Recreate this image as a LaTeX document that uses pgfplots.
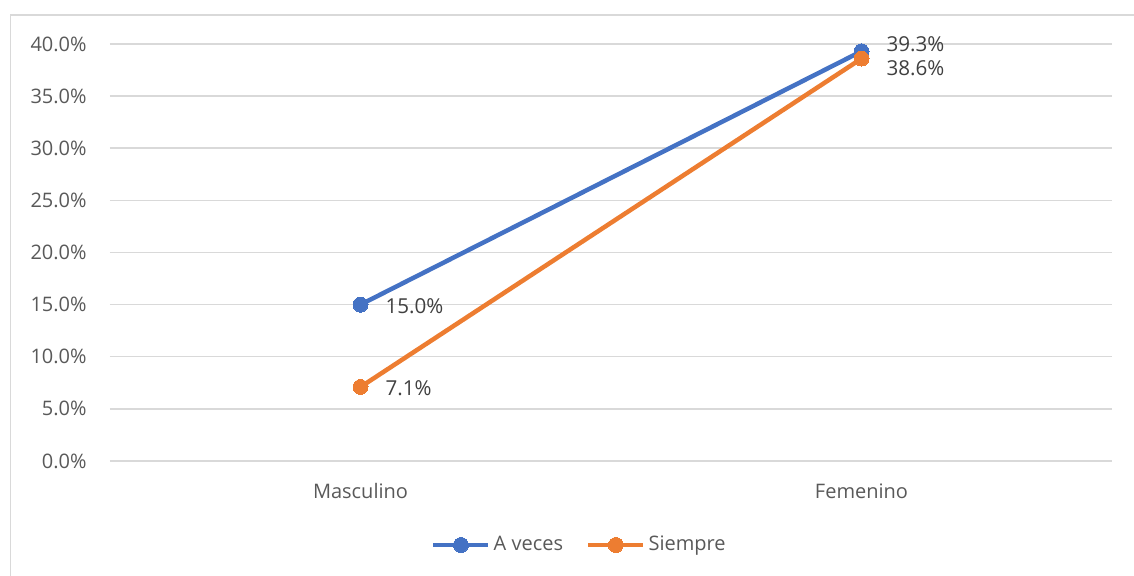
\documentclass[border=0pt]{standalone}
\usepackage{fontspec}
\setmainfont{Open Sans}
\usepackage{pgfplots}
\pgfplotsset{compat=1.18}
\definecolor{aveces}{HTML}{4472C4}
\definecolor{siempre}{HTML}{ED7D31}
\definecolor{gridgray}{HTML}{D9D9D9}
\definecolor{ticktext}{HTML}{595959}
\definecolor{labeltext}{HTML}{404040}

\begin{document}
\begin{tikzpicture}
\useasboundingbox (0,0) rectangle (567pt,288pt);
\draw[gridgray, line width=0.75pt] (5.25pt,-20pt) rectangle (590pt,280.5pt);
\begin{axis}[
    at={(55pt,57.5pt)}, anchor=south west,
    scale only axis,
    width=501pt, height=208.5pt,
    xmin=-0.5, xmax=1.5,
    ymin=0, ymax=40,
    xtick={0,1},
    xticklabels={Masculino,Femenino},
    ytick={0,5,...,40},
    yticklabels={0.0\%,5.0\%,10.0\%,15.0\%,20.0\%,25.0\%,30.0\%,35.0\%,40.0\%},
    ymajorgrids,
    grid style={gridgray, line width=0.75pt},
    axis line style={draw=none},
    major tick length=0pt,
    tick label style={font=\fontsize{10}{12}\selectfont, text=ticktext},
    yticklabel style={anchor=east, inner sep=0pt, xshift=-11.5pt},
    xticklabel style={anchor=base, inner sep=0pt, yshift=-19pt},
    clip=false,
    legend columns=2,
    legend style={at={(0.469,-0.2014)}, anchor=center, draw=none, fill=none,
        font=\fontsize{10}{12}\selectfont, text=ticktext,
        nodes={inner sep=1.5pt},
        /tikz/every even column/.append style={column sep=10pt}},
    legend image code/.code={\draw[mark repeat=2,mark phase=2,#1] plot coordinates {(0pt,0pt) (13.75pt,0pt) (27.5pt,0pt)};},
    nodes near coords,
    point meta=explicit symbolic,
    visualization depends on={\thisrow{dy} \as \dy},
    nodes near coords style={anchor=west, inner sep=0pt, xshift=12.5pt, yshift=\dy pt,
        font=\fontsize{10.3}{12}\selectfont, text=labeltext},
]
\addplot[aveces, line width=2.25pt, mark=*, mark size=3.75pt, mark options={fill=aveces, draw=aveces, line width=0pt}]
  table[x=x, y=y, meta=lab] {
x y lab dy
0 15.0 15.0\% -0.7
1 39.3 39.3\% 3.5
};
\addlegendentry{A veces}
\addplot[siempre, line width=2.25pt, mark=*, mark size=3.75pt, mark options={fill=siempre, draw=siempre, line width=0pt}]
  table[x=x, y=y, meta=lab] {
x y lab dy
0 7.1 7.1\% -0.7
1 38.6 38.6\% -4.8
};
\addlegendentry{Siempre}
\end{axis}
\end{tikzpicture}
\end{document}
